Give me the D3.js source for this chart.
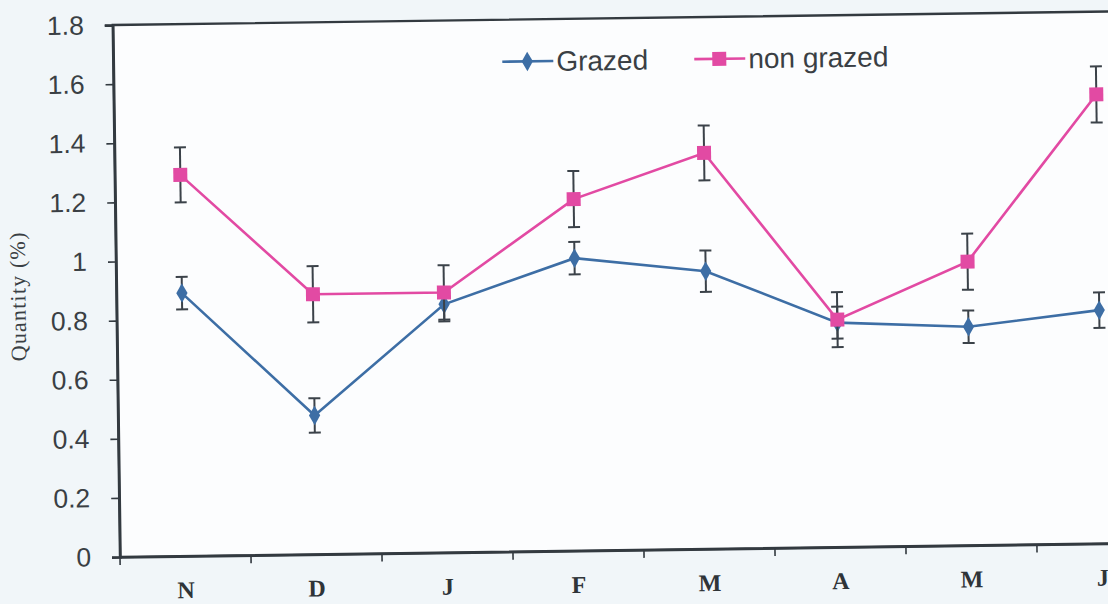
<!DOCTYPE html>
<html>
<head>
<meta charset="utf-8">
<script src="https://cdn.jsdelivr.net/npm/d3@7"></script>
<style>
  html, body { margin: 0; padding: 0; background: #f1f6f9; }
  svg { display: block; }
</style>
</head>
<body>
<svg id="chart" width="1108" height="604"></svg>
<script>
// Monthly quantity (%) for grazed and non-grazed plots, with error bars
const months = ["N", "D", "J", "F", "M", "A", "M", "J"];
const grazed = [0.89, 0.47, 0.84, 0.99, 0.94, 0.76, 0.74, 0.79];
const grazedErr = [0.055, 0.058, 0.058, 0.055, 0.07, 0.054, 0.055, 0.06];
const nonGrazed = [1.29, 0.88, 0.88, 1.19, 1.34, 0.77, 0.96, 1.52];
const nonGrazedErr = [0.093, 0.095, 0.092, 0.095, 0.093, 0.093, 0.095, 0.095];
const yTicks = [0, 0.2, 0.4, 0.6, 0.8, 1, 1.2, 1.4, 1.6, 1.8];
const yTickLabels = ["0", "0.2", "0.4", "0.6", "0.8", "1", "1.2", "1.4", "1.6", "1.8"];
const seriesNames = ["Grazed", "non grazed"];

const blue = "#3d6ea5";
const pink = "#e24aa3";
const ink = "#333a40";

const svg = d3.select("#chart");
const plotLeft = 120, plotTop = 25, plotW = 1048, plotH = 532;

// the whole figure sits slightly tilted
const tilt = svg.append("g").attr("transform", `rotate(-0.78 ${plotLeft} ${plotTop + plotH})`);
const g = tilt.append("g").attr("transform", `translate(${plotLeft},${plotTop})`);

const x = d3.scaleBand().domain(d3.range(months.length)).range([0, plotW]);
const y = d3.scaleLinear().domain([0, 1.8]).range([plotH, 0]);

// plot area
g.append("rect")
  .attr("x", 0).attr("y", 0).attr("width", plotW).attr("height", plotH)
  .attr("fill", "#fcfdfe")
  .attr("stroke", ink).attr("stroke-width", 2.4);

// y axis
const yAxis = d3.axisLeft(y)
  .tickValues(yTicks)
  .tickFormat((d, i) => yTickLabels[i])
  .tickSize(8).tickPadding(21);
const ya = g.append("g").call(yAxis);
ya.select(".domain").attr("stroke", ink).attr("stroke-width", 2.6);
ya.selectAll(".tick line").attr("stroke", ink).attr("stroke-width", 1.6);
ya.selectAll(".tick text")
  .attr("fill", "#3a3f44")
  .style("font-family", "Arial, 'Liberation Sans', sans-serif")
  .style("font-size", "26.5px");

// x axis: labels at band centres, tick marks at band edges
const xAxis = d3.axisBottom(x)
  .tickFormat(i => months[i])
  .tickSize(0).tickPadding(25);
const xa = g.append("g").attr("transform", `translate(0,${plotH})`).call(xAxis);
xa.select(".domain").attr("stroke", ink).attr("stroke-width", 2.6);
xa.selectAll(".tick text")
  .attr("fill", "#2f3438")
  .style("font-family", "'Liberation Serif', 'Times New Roman', serif")
  .style("font-weight", "bold")
  .style("font-size", "24px");
xa.selectAll(".edge")
  .data(d3.range(months.length + 1))
  .join("line")
  .attr("class", "edge")
  .attr("x1", i => i < months.length ? x(i) : plotW)
  .attr("x2", i => i < months.length ? x(i) : plotW)
  .attr("y1", 0).attr("y2", 8)
  .attr("stroke", ink).attr("stroke-width", 1.6);

// y axis title
g.append("text")
  .attr("transform", `translate(${-91},${plotH / 2 + 4}) rotate(-90)`)
  .attr("text-anchor", "middle")
  .attr("fill", "#3a3f44")
  .style("font-family", "'Liberation Serif', 'Times New Roman', serif")
  .style("font-size", "22px")
  .style("letter-spacing", "1.2px")
  .text("Quantity (%)");

const cx = i => x(i) + x.bandwidth() / 2;
const line = d3.line().x((d, i) => cx(i)).y(d => y(d));

function drawSeries(values, errs, color, shape) {
  g.append("path")
    .datum(values)
    .attr("fill", "none")
    .attr("stroke", color)
    .attr("stroke-width", 2.6)
    .attr("d", line);

  const eb = g.append("g");
  values.forEach((v, i) => {
    const x0 = cx(i), y1 = y(v + errs[i]), y2 = y(v - errs[i]);
    eb.append("line").attr("x1", x0).attr("x2", x0).attr("y1", y1).attr("y2", y2);
    eb.append("line").attr("x1", x0 - 6).attr("x2", x0 + 6).attr("y1", y1).attr("y2", y1);
    eb.append("line").attr("x1", x0 - 6).attr("x2", x0 + 6).attr("y1", y2).attr("y2", y2);
  });
  eb.selectAll("line").attr("stroke", "#3b4249").attr("stroke-width", 2);

  g.append("g").selectAll("path")
    .data(values)
    .join("path")
    .attr("transform", (d, i) => `translate(${cx(i)},${y(d)})`)
    .attr("d", shape)
    .attr("fill", color);
}

const diamond = d3.symbol(d3.symbolDiamond, 110)();
const square = d3.symbol(d3.symbolSquare, 196)();

drawSeries(grazed, grazedErr, blue, diamond);
drawSeries(nonGrazed, nonGrazedErr, pink, square);

// legend
const legend = g.append("g").attr("transform", "translate(389,42)");
const items = [
  { name: seriesNames[0], color: blue, shape: diamond, x: 0 },
  { name: seriesNames[1], color: pink, shape: square, x: 192 }
];
items.forEach(it => {
  const li = legend.append("g").attr("transform", `translate(${it.x},0)`);
  li.append("line").attr("x1", 0).attr("x2", 51).attr("y1", 0).attr("y2", 0)
    .attr("stroke", it.color).attr("stroke-width", 2.6);
  li.append("path").attr("transform", "translate(25,0)").attr("d", it.shape).attr("fill", it.color);
  li.append("text")
    .attr("x", 54).attr("y", 0).attr("dy", "0.35em")
    .attr("fill", "#3a3f44")
    .style("font-family", "Arial, 'Liberation Sans', sans-serif")
    .style("font-size", "28px")
    .text(it.name);
});
</script>
</body>
</html>
